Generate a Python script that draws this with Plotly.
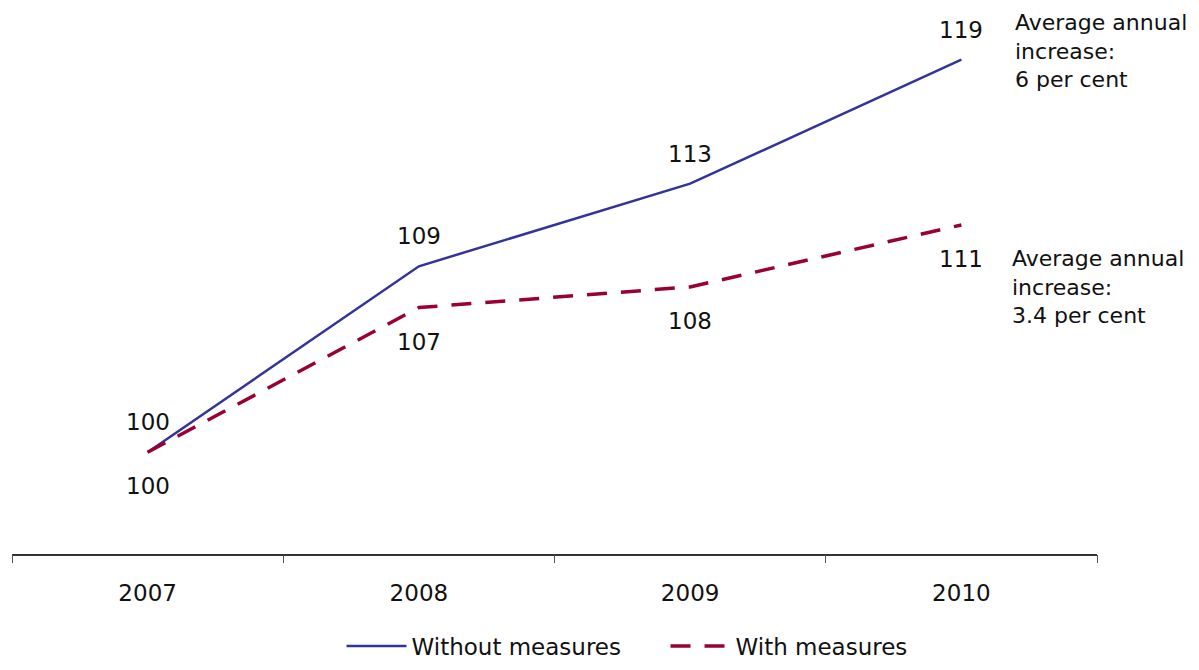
import plotly.graph_objects as go

years = ["2007", "2008", "2009", "2010"]
without_measures = [100, 109, 113, 119]
with_measures = [100, 107, 108, 111]
series_names = ["Without measures", "With measures"]
note_without = "Average annual<br>increase:<br>6 per cent"
note_with = "Average annual<br>increase:<br>3.4 per cent"

FONT = "DejaVu Sans"
BLUE = "#333399"
RED = "#990033"
FS = 23

x = list(range(len(years)))

fig = go.Figure()
fig.add_trace(go.Scatter(x=x, y=without_measures, mode="lines", name=series_names[0],
                         line=dict(color=BLUE, width=2.5)))
fig.add_trace(go.Scatter(x=x, y=with_measures, mode="lines", name=series_names[1],
                         line=dict(color=RED, width=3.5, dash="20px,14px")))

annotations = []
for xi, v in zip(x, without_measures):
    annotations.append(dict(x=xi, y=v, text=str(v), showarrow=False, yshift=30,
                            font=dict(family=FONT, size=FS, color="#111")))
for xi, v in zip(x, with_measures):
    annotations.append(dict(x=xi, y=v, text=str(v), showarrow=False, yshift=-34,
                            font=dict(family=FONT, size=FS, color="#111")))
annotations.append(dict(x=3.19, y=without_measures[-1], xref="x", yref="y", text=note_without,
                        showarrow=False, xanchor="left", yanchor="top", yshift=52, align="left",
                        font=dict(family=FONT, size=22, color="#111")))
annotations.append(dict(x=3.18, y=with_measures[-1], xref="x", yref="y", text=note_with,
                        showarrow=False, xanchor="left", yanchor="top", yshift=-19, align="left",
                        font=dict(family=FONT, size=22, color="#111")))

fig.update_layout(
    width=1183, height=654,
    margin=dict(l=4, r=94, t=29, b=108, autoexpand=False),
    paper_bgcolor="white", plot_bgcolor="white",
    font=dict(family=FONT, size=FS, color="#111"),
    annotations=annotations,
    showlegend=True,
    legend=dict(orientation="h", x=0.3037, xanchor="left", y=-0.178, yanchor="middle",
                font=dict(family=FONT, size=FS, color="#111"), traceorder="normal",
                itemwidth=60, entrywidth=249, entrywidthmode="pixels"),
    xaxis=dict(range=[-0.5, 3.5], tickmode="array", tickvals=x, ticktext=years,
               showgrid=False, zeroline=False, showline=True, linecolor="#333", linewidth=1.5,
               ticks="", tickfont=dict(family=FONT, size=FS, color="#111"), ticklabelstandoff=18,
               fixedrange=True),
    xaxis2=dict(overlaying="x", range=[-0.5, 3.5], tickmode="array",
                tickvals=[-0.5, 0.5, 1.5, 2.5, 3.5], showticklabels=False, ticks="outside",
                ticklen=8, tickcolor="#555", showgrid=False, zeroline=False, side="bottom",
                anchor="y"),
    yaxis=dict(range=[95.07, 120.1], visible=False, showgrid=False, zeroline=False, fixedrange=True),
)
fig.add_trace(go.Scatter(x=[-0.5, 3.5], y=[95.07, 95.07], xaxis="x2", mode="lines",
                         line=dict(color="rgba(0,0,0,0)"), showlegend=False, hoverinfo="skip"))

fig.write_html("out.html")
